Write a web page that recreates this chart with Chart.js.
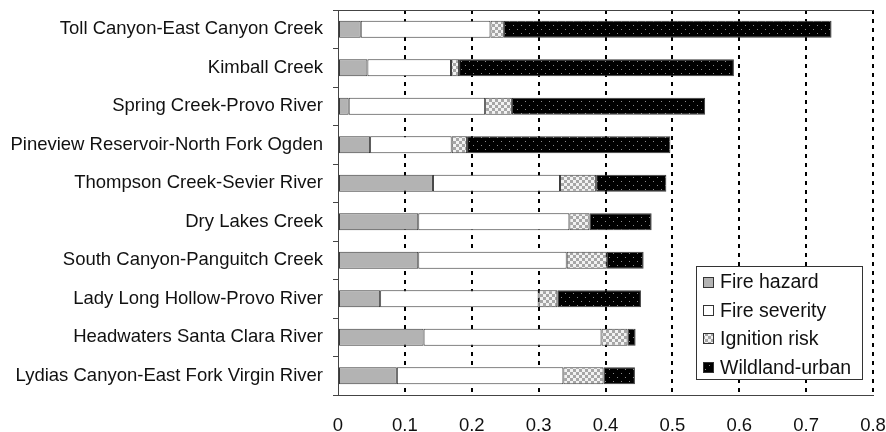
<!DOCTYPE html>
<html>
<head>
<meta charset="utf-8">
<script src="https://cdn.jsdelivr.net/npm/chart.js@4.4.1/dist/chart.umd.min.js"></script>
<style>
  html, body { margin: 0; padding: 0; background: #fff; }
  #wrap { width: 886px; height: 432px; position: relative; }
</style>
</head>
<body>
<div id="wrap"><canvas id="chart" width="886" height="432"></canvas></div>
<script>
// Watersheds, listed top to bottom
const categories = [
  'Toll Canyon-East Canyon Creek',
  'Kimball Creek',
  'Spring Creek-Provo River',
  'Pineview Reservoir-North Fork Ogden',
  'Thompson Creek-Sevier River',
  'Dry Lakes Creek',
  'South Canyon-Panguitch Creek',
  'Lady Long Hollow-Provo River',
  'Headwaters Santa Clara River',
  'Lydias Canyon-East Fork Virgin River'
];

// Component scores (stacked)
const fireHazard    = [0.034, 0.044, 0.016, 0.048, 0.142, 0.120, 0.120, 0.063, 0.128, 0.088];
const fireSeverity  = [0.194, 0.125, 0.204, 0.122, 0.190, 0.226, 0.222, 0.237, 0.266, 0.249];
const ignitionRisk  = [0.020, 0.012, 0.040, 0.023, 0.054, 0.030, 0.060, 0.028, 0.039, 0.060];
const wildlandUrban = [0.490, 0.411, 0.289, 0.304, 0.105, 0.093, 0.055, 0.125, 0.012, 0.047];

const seriesNames = ['Fire hazard', 'Fire severity', 'Ignition risk', 'Wildland-urban'];
const xTicks = [0, 0.1, 0.2, 0.3, 0.4, 0.5, 0.6, 0.7, 0.8];

// Fill patterns
function makePattern(w, h, paint) {
  const c = document.createElement('canvas');
  c.width = w; c.height = h;
  const g = c.getContext('2d');
  paint(g);
  return g.createPattern(c, 'repeat');
}
const checker = makePattern(6, 6, g => {
  g.fillStyle = '#f2f2f2'; g.fillRect(0, 0, 6, 6);
  g.fillStyle = '#a6a6a6'; g.fillRect(0, 0, 3, 3); g.fillRect(3, 3, 3, 3);
});
const dotted = makePattern(8, 8, g => {
  g.fillStyle = '#000'; g.fillRect(0, 0, 8, 8);
  g.fillStyle = '#8a8a8a'; g.fillRect(1, 1, 1, 1); g.fillRect(5, 5, 1, 1);
});
const fills = ['#b3b3b3', '#ffffff', checker, dotted];
const values = [fireHazard, fireSeverity, ignitionRisk, wildlandUrban];

const FONT = "'Liberation Sans', Arial, sans-serif";
Chart.defaults.font.family = FONT;
Chart.defaults.font.size = 18.5;
Chart.defaults.color = '#111';

// Top frame line and boxed legend inside the plot area
const frameAndLegend = {
  id: 'frameAndLegend',
  afterDraw(chart) {
    const ctx = chart.ctx;
    const a = chart.chartArea;
    ctx.save();
    ctx.strokeStyle = '#444';
    ctx.lineWidth = 1;
    ctx.beginPath();
    ctx.moveTo(a.left - 5, a.top + 0.5);
    ctx.lineTo(a.right, a.top + 0.5);
    ctx.stroke();

    const bx = 696.5, by = 266.5, bw = 166, bh = 113;
    ctx.fillStyle = '#fff';
    ctx.fillRect(bx, by, bw, bh);
    ctx.strokeStyle = '#333';
    ctx.strokeRect(bx, by, bw, bh);
    ctx.font = '19.5px ' + FONT;
    ctx.textBaseline = 'middle';
    ctx.textAlign = 'left';
    chart.data.datasets.forEach((ds, i) => {
      const cy = 282 + i * 28.4;
      ctx.fillStyle = ds.backgroundColor;
      ctx.fillRect(703, Math.round(cy - 5.5), 11, 11);
      ctx.strokeStyle = '#333';
      ctx.strokeRect(703.5, Math.round(cy - 5.5) + 0.5, 10, 10);
      ctx.fillStyle = '#111';
      ctx.fillText(ds.label, 720, cy + 1);
    });
    ctx.restore();
  }
};

new Chart(document.getElementById('chart'), {
  type: 'bar',
  data: {
    labels: categories,
    datasets: seriesNames.map((name, i) => ({
      label: name,
      data: values[i],
      backgroundColor: fills[i],
      borderColor: '#3a3a3a',
      borderWidth: 1,
      borderSkipped: false,
      barPercentage: 0.44,
      categoryPercentage: 1
    }))
  },
  options: {
    indexAxis: 'y',
    responsive: false,
    animation: false,
    layout: { padding: { top: 10, right: 13, left: 0, bottom: 0 } },
    plugins: {
      legend: { display: false },
      tooltip: { enabled: false }
    },
    scales: {
      x: {
        stacked: true,
        min: 0,
        max: 0.8,
        afterBuildTicks(scale) { scale.ticks = xTicks.map(v => ({ value: v })); },
        afterFit(scale) {
          scale.height = 37;
          scale.paddingLeft = 0;
          scale.paddingRight = 0;
        },
        ticks: {
          padding: 20,
          color: '#111',
          callback: v => String(Math.round(v * 10) / 10)
        },
        grid: {
          drawTicks: false,
          lineWidth: 2,
          color: c => (c.tick && c.tick.value === 0) ? 'rgba(0,0,0,0)' : '#000'
        },
        border: { display: true, color: '#444', width: 1, dash: [4, 5] }
      },
      y: {
        stacked: true,
        afterFit(scale) {
          scale.width = 338;
          scale.paddingTop = 0;
          scale.paddingBottom = 0;
        },
        ticks: { padding: 10, color: '#111', autoSkip: false },
        grid: {
          drawOnChartArea: false,
          drawTicks: true,
          tickLength: 5,
          color: '#444',
          offset: true
        },
        border: { display: true, color: '#444', width: 1 }
      }
    }
  },
  plugins: [frameAndLegend]
});
</script>
</body>
</html>
